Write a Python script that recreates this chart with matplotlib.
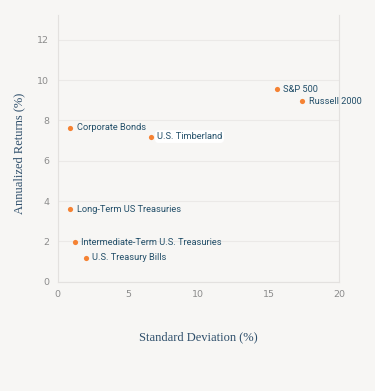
import matplotlib
matplotlib.use('Agg')
import matplotlib.pyplot as plt

# asset classes: (std dev %, annualized return %)
names   = ['S&P 500', 'Russell 2000', 'Corporate Bonds', 'U.S. Timberland',
           'Long-Term US Treasuries', 'Intermediate-Term U.S. Treasuries', 'U.S. Treasury Bills']
std_dev = [15.6, 17.4, 0.9, 6.6, 0.9, 1.2, 2.0]
returns = [9.55, 8.95, 7.65, 7.2, 3.6, 1.95, 1.2]

bg = '#f7f6f4'
fig = plt.figure(figsize=(3.75, 3.91), dpi=100, facecolor=bg)
ax = fig.add_axes([0.154, 0.2795, 0.75, 0.682], facecolor=bg)

ax.scatter(std_dev, returns, s=14, color='#f58233', zorder=3, linewidths=0)
for n, x, y in zip(names, std_dev, returns):
    bbox = None
    if n == 'U.S. Timberland':
        bbox = dict(boxstyle='round,pad=0.2,rounding_size=0.4', fc='white', ec='none')
    ax.annotate(n, (x, y), xytext=(4.5, 0), textcoords='offset points',
                family='Roboto', fontsize=6.7, color='#24506a', va='center', ha='left',
                bbox=bbox, zorder=4)

ax.set_xlim(0, 20)
ax.set_ylim(0, 13.23)
ax.set_xticks([0, 5, 10, 15, 20])
ax.set_yticks([0, 2, 4, 6, 8, 10, 12])
ax.grid(axis='y', color='#ebe9e7', linewidth=0.8)
ax.set_axisbelow(True)
ax.spines['top'].set_visible(False)
for s in ['left', 'bottom', 'right']:
    ax.spines[s].set_color('#e3e1df')
    ax.spines[s].set_linewidth(0.8)
ax.tick_params(length=0, labelsize=6.8, labelcolor='#8c8c8c', pad=6)

ax.set_xlabel('Standard Deviation (%)', family='Liberation Serif', fontsize=9,
              color='#2f4f6b', labelpad=23)
ax.set_ylabel('Annualized Returns (%)', family='Liberation Serif', fontsize=9,
              color='#2f4f6b')
ax.yaxis.set_label_coords(-0.116, 0.48)

fig.savefig('out.png', dpi=100, facecolor=bg)
